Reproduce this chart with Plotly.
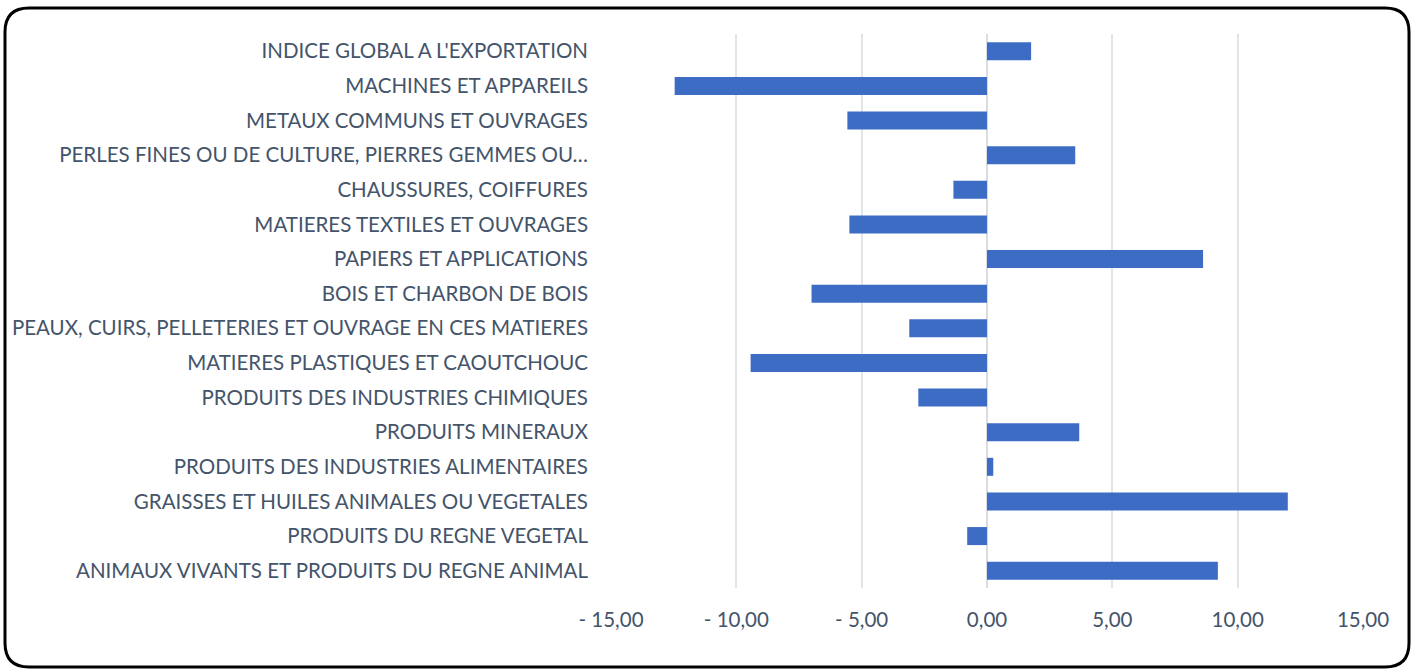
import plotly.graph_objects as go

categories = [
    "ANIMAUX VIVANTS ET PRODUITS DU REGNE ANIMAL",
    "PRODUITS DU REGNE VEGETAL",
    "GRAISSES ET HUILES ANIMALES OU VEGETALES",
    "PRODUITS DES INDUSTRIES ALIMENTAIRES",
    "PRODUITS MINERAUX",
    "PRODUITS DES INDUSTRIES CHIMIQUES",
    "MATIERES PLASTIQUES ET CAOUTCHOUC",
    "PEAUX, CUIRS, PELLETERIES ET OUVRAGE EN CES MATIERES",
    "BOIS ET CHARBON DE BOIS",
    "PAPIERS ET APPLICATIONS",
    "MATIERES TEXTILES ET OUVRAGES",
    "CHAUSSURES, COIFFURES",
    "PERLES FINES OU DE CULTURE, PIERRES GEMMES OU…",
    "METAUX COMMUNS ET OUVRAGES",
    "MACHINES ET APPAREILS",
    "INDICE GLOBAL A L'EXPORTATION",
]
values = [9.21, -0.79, 12.00, 0.25, 3.68, -2.74, -9.43, -3.10,
          -7.00, 8.62, -5.49, -1.34, 3.52, -5.57, -12.46, 1.76]

tick_vals = [-15, -10, -5, 0, 5, 10, 15]
tick_text = ["- 15,00", "- 10,00", "- 5,00", "0,00", "5,00", "10,00", "15,00"]

W, H = 1412, 670
ML, MR, MT, MB = 611, 49, 34, 82

fig = go.Figure(go.Bar(
    y=categories,
    x=values,
    orientation="h",
    marker=dict(color="#3D6CC5", line=dict(width=0)),
))

fig.update_layout(
    width=W, height=H,
    margin=dict(l=ML, r=MR, t=MT, b=MB),
    paper_bgcolor="white",
    plot_bgcolor="white",
    bargap=0.48,
    showlegend=False,
    font=dict(family="Lato, 'Open Sans', sans-serif", size=20.5, color="#44546A"),
)
fig.update_xaxes(
    range=[-15, 15],
    tickvals=tick_vals,
    ticktext=tick_text,
    showgrid=True, gridcolor="#E1E5EA", gridwidth=1.5,
    zeroline=True, zerolinecolor="#D9DDE3", zerolinewidth=2,
    showline=False, ticks="",
    ticklabelstandoff=17,
)
fig.update_yaxes(
    categoryorder="array", categoryarray=categories,
    showgrid=False, zeroline=False, showline=False, ticks="",
    ticklabelstandoff=22,
)

# rounded frame around the whole chart
pw, ph = W - ML - MR, H - MT - MB
def px(x): return (x - ML) / pw
def py(y): return (H - MB - y) / ph
x0, x1, y0, y1, r = 5, 1409, 8, 667, 24
path = (
    f"M {px(x0 + r)},{py(y0)} L {px(x1 - r)},{py(y0)} "
    f"Q {px(x1)},{py(y0)} {px(x1)},{py(y0 + r)} "
    f"L {px(x1)},{py(y1 - r)} Q {px(x1)},{py(y1)} {px(x1 - r)},{py(y1)} "
    f"L {px(x0 + r)},{py(y1)} Q {px(x0)},{py(y1)} {px(x0)},{py(y1 - r)} "
    f"L {px(x0)},{py(y0 + r)} Q {px(x0)},{py(y0)} {px(x0 + r)},{py(y0)} Z"
)
fig.add_shape(type="path", path=path, xref="paper", yref="paper",
              line=dict(color="black", width=3))

fig.write_html("out.html", config={"displayModeBar": False},
               post_script="document.body.style.margin='0';")
